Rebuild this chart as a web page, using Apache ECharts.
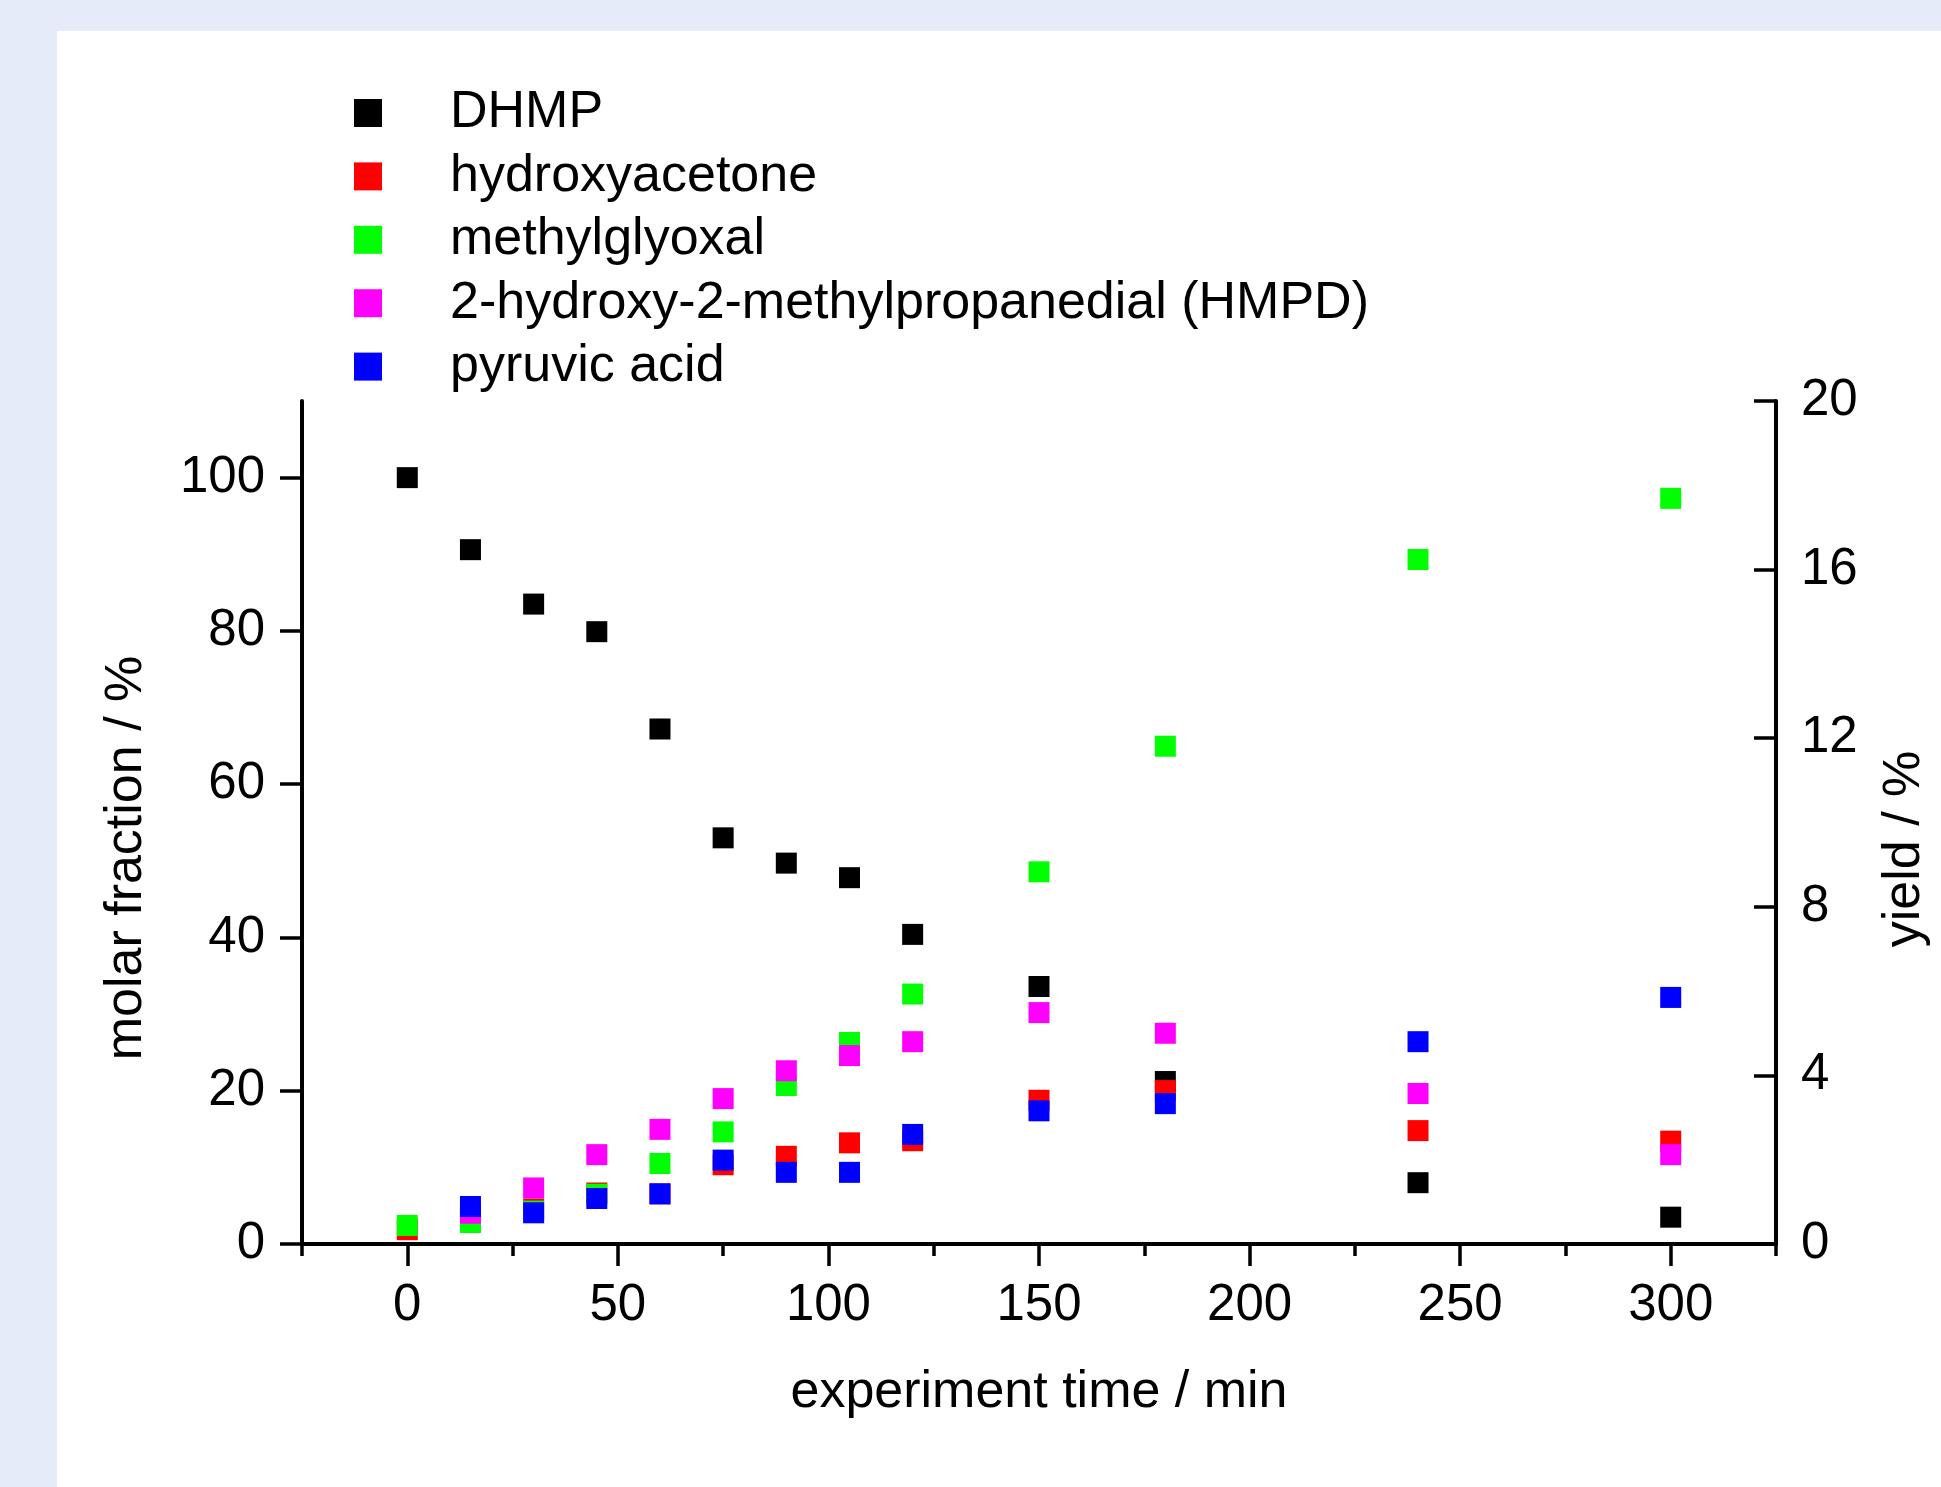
<!DOCTYPE html>
<html>
<head>
<meta charset="utf-8">
<script src="https://cdn.jsdelivr.net/npm/echarts@6/dist/echarts.min.js"></script>
<style>
  html, body { margin: 0; padding: 0; background: #e5ebf9; }
  #panel { position: absolute; left: 57px; top: 31px; right: 0; bottom: 0; background: #fff; }
  #main { position: absolute; left: 0; top: 0; width: 1941px; height: 1487px; }
</style>
</head>
<body>
<div id="panel"></div>
<div id="main"></div>
<script>
// experiment time / min
const times = [0, 15, 30, 45, 60, 75, 90, 105, 120, 150, 180, 240, 300];
// molar fraction / % (left axis)
const dhmp = [100, 90.6, 83.5, 79.9, 67.2, 53.0, 49.7, 47.8, 40.4, 33.6, 21.2, 8.0, 3.5];
// yields / % (right axis)
const hydroxyacetone = [0.34, 0.6, 0.83, 1.21, 1.19, 1.88, 2.08, 2.40, 2.45, 3.41, 3.64, 2.69, 2.44];
const methylglyoxal = [0.44, 0.51, 0.78, 1.18, 1.91, 2.66, 3.76, 4.78, 5.93, 8.83, 11.81, 16.24, 17.69];
const hmpd = [null, 0.73, 1.33, 2.12, 2.72, 3.45, 4.11, 4.47, 4.80, 5.49, 5.0, 3.57, 2.12];
const pyruvic = [null, 0.89, 0.74, 1.08, 1.19, 1.99, 1.70, 1.70, 2.60, 3.16, 3.33, 4.80, 5.85];

const xMajor = [0, 50, 100, 150, 200, 250, 300];
const xMinor = [-25, 25, 75, 125, 175, 225, 275, 325];
const leftTicks = [0, 20, 40, 60, 80, 100];

const FONT = 'Liberation Sans, Arial, sans-serif';

function pairs(arr) {
  const out = [];
  times.forEach((t, i) => {
    if (arr[i] != null) out.push([t, arr[i]]);
  });
  return out;
}

function dots(name, arr, color, yIdx) {
  return {
    name: name,
    type: 'scatter',
    yAxisIndex: yIdx,
    symbol: 'rect',
    symbolSize: 21,
    itemStyle: { color: color, opacity: 1 },
    data: pairs(arr)
  };
}

const axisLine = { show: true, onZero: false, lineStyle: { color: '#000', width: 4 } };

const option = {
  animation: false,
  textStyle: { fontFamily: FONT },
  grid: { left: 302, right: 165, top: 401, bottom: 243 },
  legend: {
    orient: 'vertical',
    left: 349,
    top: 82,
    icon: 'rect',
    itemWidth: 28,
    itemHeight: 28,
    itemGap: 11.4,
    textStyle: { fontSize: 52, color: '#000', fontFamily: FONT, lineHeight: 52, padding: [0, 0, 0, 63] },
    data: ['DHMP', 'hydroxyacetone', 'methylglyoxal', '2-hydroxy-2-methylpropanedial (HMPD)', 'pyruvic acid']
  },
  xAxis: [
    {
      type: 'value', min: -25, max: 325, position: 'bottom',
      axisLine: axisLine,
      axisTick: { customValues: xMajor, length: 22, lineStyle: { color: '#000', width: 3.5 } },
      axisLabel: { customValues: xMajor, fontSize: 51, color: '#000', margin: 36, fontFamily: FONT },
      splitLine: { show: false },
      name: 'experiment time / min',
      nameLocation: 'middle',
      nameGap: 123,
      nameTextStyle: { fontSize: 52, color: '#000', fontFamily: FONT }
    },
    {
      type: 'value', min: -25, max: 325, position: 'bottom',
      axisLine: { show: false, onZero: false },
      axisTick: { customValues: xMinor, length: 12, lineStyle: { color: '#000', width: 3.5 } },
      axisLabel: { show: false },
      splitLine: { show: false }
    }
  ],
  yAxis: [
    {
      type: 'value', min: 0, max: 110, position: 'left',
      axisLine: axisLine,
      axisTick: { customValues: leftTicks, length: 22, lineStyle: { color: '#000', width: 3.5 } },
      axisLabel: { customValues: leftTicks, fontSize: 51, color: '#000', margin: 37, fontFamily: FONT },
      splitLine: { show: false },
      name: 'molar fraction / %',
      nameLocation: 'middle',
      nameRotate: 90,
      nameGap: 149,
      nameTextStyle: { fontSize: 52, color: '#000', fontFamily: FONT, padding: [0, 71, 0, 0] }
    },
    {
      type: 'value', min: 0, max: 20, interval: 4, position: 'right',
      axisLine: axisLine,
      axisTick: { inside: true, length: 22, lineStyle: { color: '#000', width: 3.5 } },
      axisLabel: { fontSize: 51, color: '#000', margin: 25, fontFamily: FONT },
      splitLine: { show: false },
      name: 'yield / %',
      nameLocation: 'middle',
      nameRotate: 90,
      nameGap: 103,
      nameTextStyle: { fontSize: 52, color: '#000', fontFamily: FONT, padding: [0, 53, 0, 0] }
    }
  ],
  series: [
    dots('DHMP', dhmp, '#000000', 0),
    dots('hydroxyacetone', hydroxyacetone, '#ff0000', 1),
    dots('methylglyoxal', methylglyoxal, '#00ff00', 1),
    dots('2-hydroxy-2-methylpropanedial (HMPD)', hmpd, '#ff00ff', 1),
    dots('pyruvic acid', pyruvic, '#0000ff', 1)
  ]
};

const chart = echarts.init(document.getElementById('main'), null, { renderer: 'canvas' });
chart.setOption(option);
</script>
</body>
</html>
